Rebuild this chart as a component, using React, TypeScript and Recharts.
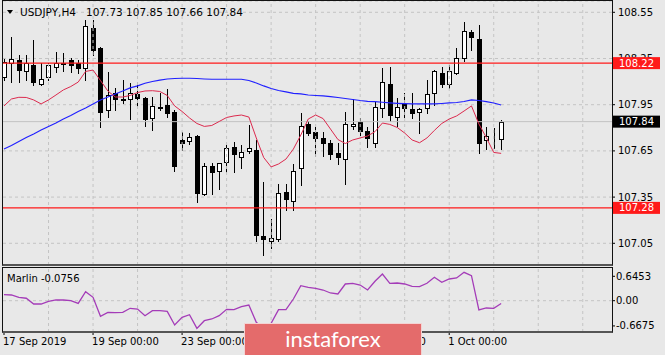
import React from 'react';
import { ComposedChart, Bar, Line, XAxis, YAxis, ReferenceLine, CartesianGrid } from 'recharts';

const opens = [
  108.13, 108.22, 108.24, 108.17, 108.21, 108.085, 108.13, 108.195, 108.22, 108.24,
  108.223, 108.186, 108.446, 108.316, 107.916, 108.024, 107.985, 107.987, 108.018, 107.992,
  107.866, 107.931, 107.948, 107.905, 107.721, 107.716, 107.747, 107.368, 107.554, 107.521,
  107.576, 107.677, 107.612, 107.649, 107.656, 107.097, 107.067, 107.076, 107.385, 107.325,
  107.537, 107.825, 107.775, 107.732, 107.699, 107.638, 107.595, 107.812, 107.836, 107.779,
  107.703, 107.927, 108.084, 107.872, 107.954, 107.92, 107.905, 107.927, 108.024, 108.158,
  108.084, 108.158, 108.251, 108.42, 108.377, 107.721, 107.736, 107.73,
];
const highs = [
  108.25, 108.39, 108.27, 108.27, 108.37, 108.22, 108.22, 108.29, 108.285, 108.255,
  108.24, 108.5, 108.5, 108.327, 108.164, 108.057, 108.11, 108.089, 108.099, 108.002,
  108.002, 108.024, 108.05, 107.916, 107.775, 107.764, 107.753, 107.57, 107.57, 107.573,
  107.688, 107.71, 107.688, 107.818, 107.721, 107.45, 107.206, 107.435, 107.435, 107.565,
  107.898, 107.846, 107.807, 107.775, 107.721, 107.699, 107.905, 107.985, 107.862, 107.807,
  107.969, 108.186, 108.193, 107.992, 108.024, 108.024, 107.927, 108.11, 108.175, 108.193,
  108.208, 108.316, 108.489, 108.435, 108.468, 107.807, 107.797, 107.85,
];
const lows = [
  108.11, 108.1, 108.1, 108.11, 108.078, 108.078, 108.11, 108.164, 108.169, 108.164,
  108.154, 108.11, 108.273, 107.807, 107.872, 107.916, 107.959, 107.855, 107.942, 107.812,
  107.786, 107.916, 107.872, 107.522, 107.656, 107.695, 107.32, 107.364, 107.368, 107.403,
  107.511, 107.515, 107.537, 107.635, 107.067, 106.974, 107.018, 107.067, 107.266, 107.266,
  107.429, 107.753, 107.617, 107.617, 107.595, 107.565, 107.433, 107.79, 107.753, 107.673,
  107.673, 107.872, 107.846, 107.812, 107.868, 107.862, 107.764, 107.894, 107.948, 108.063,
  108.057, 108.15, 108.236, 108.305, 107.638, 107.66, 107.667, 107.66,
];
const closes = [
  108.23, 108.25, 108.175, 108.223, 108.097, 108.115, 108.208, 108.219, 108.212, 108.208,
  108.186, 108.461, 108.305, 107.905, 108.013, 107.985, 107.983, 108.024, 107.992, 107.857,
  107.944, 107.933, 107.898, 107.552, 107.703, 107.738, 107.375, 107.552, 107.515, 107.57,
  107.667, 107.63, 107.645, 107.671, 107.104, 107.076, 107.083, 107.375, 107.336, 107.521,
  107.814, 107.764, 107.732, 107.703, 107.628, 107.608, 107.825, 107.825, 107.781, 107.732,
  107.933, 108.099, 107.883, 107.933, 107.927, 107.898, 107.92, 108.018, 108.171, 108.084,
  108.171, 108.251, 108.431, 108.388, 107.703, 107.747, 107.737, 107.84,
];
const maSlow = [
  107.662, 107.685, 107.711, 107.737, 107.76, 107.786, 107.809, 107.831, 107.857, 107.88,
  107.906, 107.929, 107.955, 107.981, 108.0, 108.02, 108.039, 108.059, 108.072, 108.089,
  108.101, 108.11, 108.117, 108.12, 108.122, 108.122, 108.12, 108.117, 108.115, 108.115,
  108.115, 108.115, 108.115, 108.107, 108.091, 108.072, 108.055, 108.042, 108.033, 108.024,
  108.02, 108.013, 108.01, 108.007, 108.002, 107.997, 107.99, 107.984, 107.977, 107.972,
  107.97, 107.966, 107.962, 107.959, 107.957, 107.955, 107.955, 107.955, 107.955, 107.958,
  107.962, 107.964, 107.971, 107.981, 107.977, 107.97, 107.961, 107.948,
];
const maFast = [
  107.942, 107.987, 107.998, 107.997, 107.981, 107.955, 107.981, 108.013, 108.046, 108.068,
  108.097, 108.166, 108.175, 108.107, 108.039, 108.0, 108.0, 108.01, 108.029, 108.039,
  108.041, 108.036, 108.01, 107.942, 107.906, 107.864, 107.828, 107.809, 107.815, 107.841,
  107.867, 107.877, 107.883, 107.87, 107.734, 107.607, 107.546, 107.565, 107.597, 107.662,
  107.753, 107.857, 107.883, 107.86, 107.792, 107.724, 107.698, 107.721, 107.734, 107.747,
  107.775, 107.831, 107.822, 107.802, 107.766, 107.721, 107.703, 107.734, 107.783, 107.828,
  107.857, 107.877, 107.909, 107.942, 107.825, 107.737, 107.64, 107.634,
];
const marlin = [
  0.159, 0.151, 0.09, 0.065, -0.087, -0.087, -0.016, 0.019, 0.019, 0.0,
  -0.07, 0.238, 0.09, -0.413, -0.307, -0.317, -0.307, -0.201, -0.22, -0.397,
  -0.264, -0.264, -0.282, -0.643, -0.44, -0.37, -0.731, -0.529, -0.484, -0.397,
  -0.229, -0.238, -0.159, -0.114, -0.572, -0.75, -0.598, -0.238, -0.238, 0.045,
  0.397, 0.354, 0.328, 0.283, 0.204, 0.177, 0.442, 0.46, 0.415, 0.283,
  0.513, 0.706, 0.46, 0.468, 0.442, 0.381, 0.37, 0.46, 0.619, 0.487,
  0.574, 0.601, 0.751, 0.661, -0.246, -0.193, -0.201, -0.0756,
];

const priceTicks = [107.05, 107.35, 107.65, 107.95, 108.25, 108.55];
const marlinTicks = [-0.6675, 0, 0.6453];
const dateTickBars = [0, 12, 24, 36, 48, 60];
const dateLabels = ['17 Sep 2019', '19 Sep 00:00', '23 Sep 00:00', '25 Sep 00:00', '27 Sep 00:00', '1 Oct 00:00'];
const gridBars = [6, 12, 18, 24, 30, 36, 42, 48, 54, 60, 66, 72, 78];
const levelHigh = 108.22;
const levelLow = 107.28;
const lastPrice = 107.84;
const header = { symbol: 'USDJPY,H4', ohlc: '107.73 107.85 107.66 107.84' };
const marlinLabel = 'Marlin -0.0756';

const data = opens.map((o, i) => ({
  i,
  o,
  h: highs[i],
  l: lows[i],
  c: closes[i],
  range: [lows[i], highs[i]],
  slow: maSlow[i],
  fast: maFast[i],
  marlin: marlin[i],
}));

const X0 = -0.1348;
const X1 = 81.94;
const PRICE_DOMAIN: [number, number] = [106.9091, 108.6234];
const FONT = 'DejaVu Sans';
const GRID = '#c4c4c4';

const Candle = (props: any) => {
  const { x, y, width, height, payload } = props;
  if (x == null || y == null || !payload) return null;
  const { o, h, l, c } = payload;
  const yTop = Math.min(y, y + height);
  const yBot = Math.max(y, y + height);
  const pix = (v: number) => yTop + ((h - v) / (h - l)) * (yBot - yTop);
  const cx = Math.round(x + width / 2);
  const bodyTop = Math.round(pix(Math.max(o, c)));
  const bodyBot = Math.round(pix(Math.min(o, c)));
  const bull = c >= o;
  return (
    <g>
      <line x1={cx + 0.5} x2={cx + 0.5} y1={Math.round(yTop)} y2={Math.round(yBot) + 1} stroke="#000" strokeWidth={1} />
      <rect
        x={cx - 2 + 0.5}
        y={bodyTop + 0.5}
        width={4}
        height={Math.max(bodyBot - bodyTop, 0)}
        fill={bull ? '#ffffff' : '#000000'}
        stroke="#000"
        strokeWidth={1}
      />
    </g>
  );
};

const PriceTag = (props: any) => {
  const { viewBox, text, bg } = props;
  if (!viewBox) return null;
  const x = viewBox.x + viewBox.width + 1;
  const y = viewBox.y;
  return (
    <g>
      <rect x={x} y={y - 6} width={47} height={12} fill={bg} />
      <text x={x + 6} y={y} dy="0.36em" fill="#ffffff" fontSize={10} fontFamily={FONT}>
        {text}
      </text>
    </g>
  );
};

const DateTick = (props: any) => {
  const { x, y, payload } = props;
  const idx = dateTickBars.indexOf(payload.value);
  return (
    <text x={x - 1} y={y} dy="0.71em" textAnchor="start" fill="#000" fontSize={10} fontFamily={FONT}>
      {idx >= 0 ? dateLabels[idx] : ''}
    </text>
  );
};

export default function App() {
  return (
    <div
      style={{
        position: 'absolute',
        left: 0,
        top: 0,
        width: 665,
        height: 355,
        background: '#e8e8e8',
        overflow: 'hidden',
        fontFamily: FONT,
      }}
    >
      <div style={{ position: 'absolute', left: 0, top: 0 }}>
        <ComposedChart width={665} height={266} data={data} margin={{ top: 1, right: 0, left: 3, bottom: 1 }}>
          <XAxis type="number" dataKey="i" domain={[X0, X1]} allowDataOverflow hide />
          <YAxis
            orientation="right"
            width={53}
            domain={PRICE_DOMAIN}
            allowDataOverflow
            ticks={priceTicks}
            interval={0}
            tickFormatter={(v: number) => v.toFixed(2)}
            tick={{ fontSize: 10, fill: '#000', fontFamily: FONT }}
            tickLine={{ stroke: '#000' }}
            tickSize={3}
            tickMargin={3}
            axisLine={false}
          />
          <CartesianGrid vertical={false} stroke={GRID} strokeDasharray="3 3" />
          {gridBars.map((g) => (
            <ReferenceLine key={'v' + g} x={g} stroke={GRID} strokeDasharray="3 3" />
          ))}
          <ReferenceLine y={lastPrice} stroke="#c2c2c2" />
          <Bar dataKey="range" barSize={5} shape={<Candle />} isAnimationActive={false} />
          <Line dataKey="slow" stroke="#2020ff" strokeWidth={1.15} dot={false} isAnimationActive={false} />
          <Line dataKey="fast" stroke="#dc2a4e" strokeWidth={1} dot={false} isAnimationActive={false} />
        </ComposedChart>
      </div>

      {/* overlay layer: level lines and price tags drawn above the axis labels */}
      <div style={{ position: 'absolute', left: 0, top: 0 }}>
        <ComposedChart width={665} height={266} data={data} margin={{ top: 1, right: 0, left: 3, bottom: 1 }}>
          <XAxis type="number" dataKey="i" domain={[X0, X1]} allowDataOverflow hide />
          <YAxis
            orientation="right"
            width={53}
            domain={PRICE_DOMAIN}
            allowDataOverflow
            ticks={priceTicks}
            tick={false}
            tickLine={false}
            axisLine={false}
          />
          <ReferenceLine y={lastPrice} stroke="none" label={<PriceTag text={lastPrice.toFixed(2)} bg="#000000" />} />
          <ReferenceLine y={levelHigh} stroke="#ff1a1a" strokeWidth={1.2} label={<PriceTag text={levelHigh.toFixed(2)} bg="#ff1a1a" />} />
          <ReferenceLine y={levelLow} stroke="#ff1a1a" strokeWidth={1.2} label={<PriceTag text={levelLow.toFixed(2)} bg="#ff1a1a" />} />
        </ComposedChart>
      </div>

      <div style={{ position: 'absolute', left: 0, top: 267 }}>
        <ComposedChart width={665} height={88} data={data} margin={{ top: 1, right: 0, left: 3, bottom: 1 }}>
          <XAxis
            type="number"
            dataKey="i"
            domain={[X0, X1]}
            allowDataOverflow
            ticks={dateTickBars}
            interval={0}
            tick={<DateTick />}
            tickSize={3}
            tickMargin={3}
            axisLine={false}
            tickLine={{ stroke: '#000' }}
            height={22}
          />
          <YAxis
            orientation="right"
            width={53}
            domain={[-0.828, 0.865]}
            allowDataOverflow
            ticks={marlinTicks}
            interval={0}
            tickFormatter={(v: number) => (v === 0 ? '0.00' : String(v))}
            tick={{ fontSize: 10, fill: '#000', fontFamily: FONT }}
            tickLine={{ stroke: '#000' }}
            tickSize={3}
            tickMargin={1}
            axisLine={false}
          />
          {gridBars.map((g) => (
            <ReferenceLine key={'iv' + g} x={g} stroke={GRID} strokeDasharray="3 3" />
          ))}
          <ReferenceLine y={0} stroke={GRID} strokeDasharray="3 3" />
          <Line dataKey="marlin" stroke="#a43cb8" strokeWidth={1.3} dot={false} isAnimationActive={false} />
        </ComposedChart>
      </div>

      {/* panel borders */}
      <div style={{ position: 'absolute', left: 2, top: 0, width: 611, height: 266, boxSizing: 'border-box', border: '1px solid #111', borderBottom: '2px solid #555' }} />
      <div style={{ position: 'absolute', left: 2, top: 267, width: 611, height: 66, boxSizing: 'border-box', border: '1px solid #111', borderBottom: '2px solid #555' }} />

      {/* header */}
      <div style={{ position: 'absolute', left: 7, top: 10, width: 0, height: 0, borderLeft: '3.5px solid transparent', borderRight: '3.5px solid transparent', borderTop: '4px solid #000' }} />
      <div style={{ position: 'absolute', left: 20, top: 6, fontSize: 10.5, lineHeight: '12px', color: '#000', whiteSpace: 'pre' }}>{header.symbol}</div>
      <div style={{ position: 'absolute', left: 86, top: 6, fontSize: 10.5, lineHeight: '12px', color: '#000', whiteSpace: 'pre' }}>{header.ohlc}</div>

      <div style={{ position: 'absolute', left: 7, top: 273, fontSize: 10, lineHeight: '12px', color: '#000', whiteSpace: 'pre' }}>{marlinLabel}</div>

      {/* watermark */}
      <div
        style={{
          position: 'absolute',
          left: 244,
          top: 323,
          width: 178,
          height: 36,
          boxSizing: 'border-box',
          background: '#e46b6b',
          border: '1px solid #f3d3d3',
          color: '#ffffff',
          fontFamily: 'Lato',
          fontSize: 22,
          lineHeight: '30px',
          textAlign: 'center',
        }}
      >
        instaforex
      </div>
    </div>
  );
}
